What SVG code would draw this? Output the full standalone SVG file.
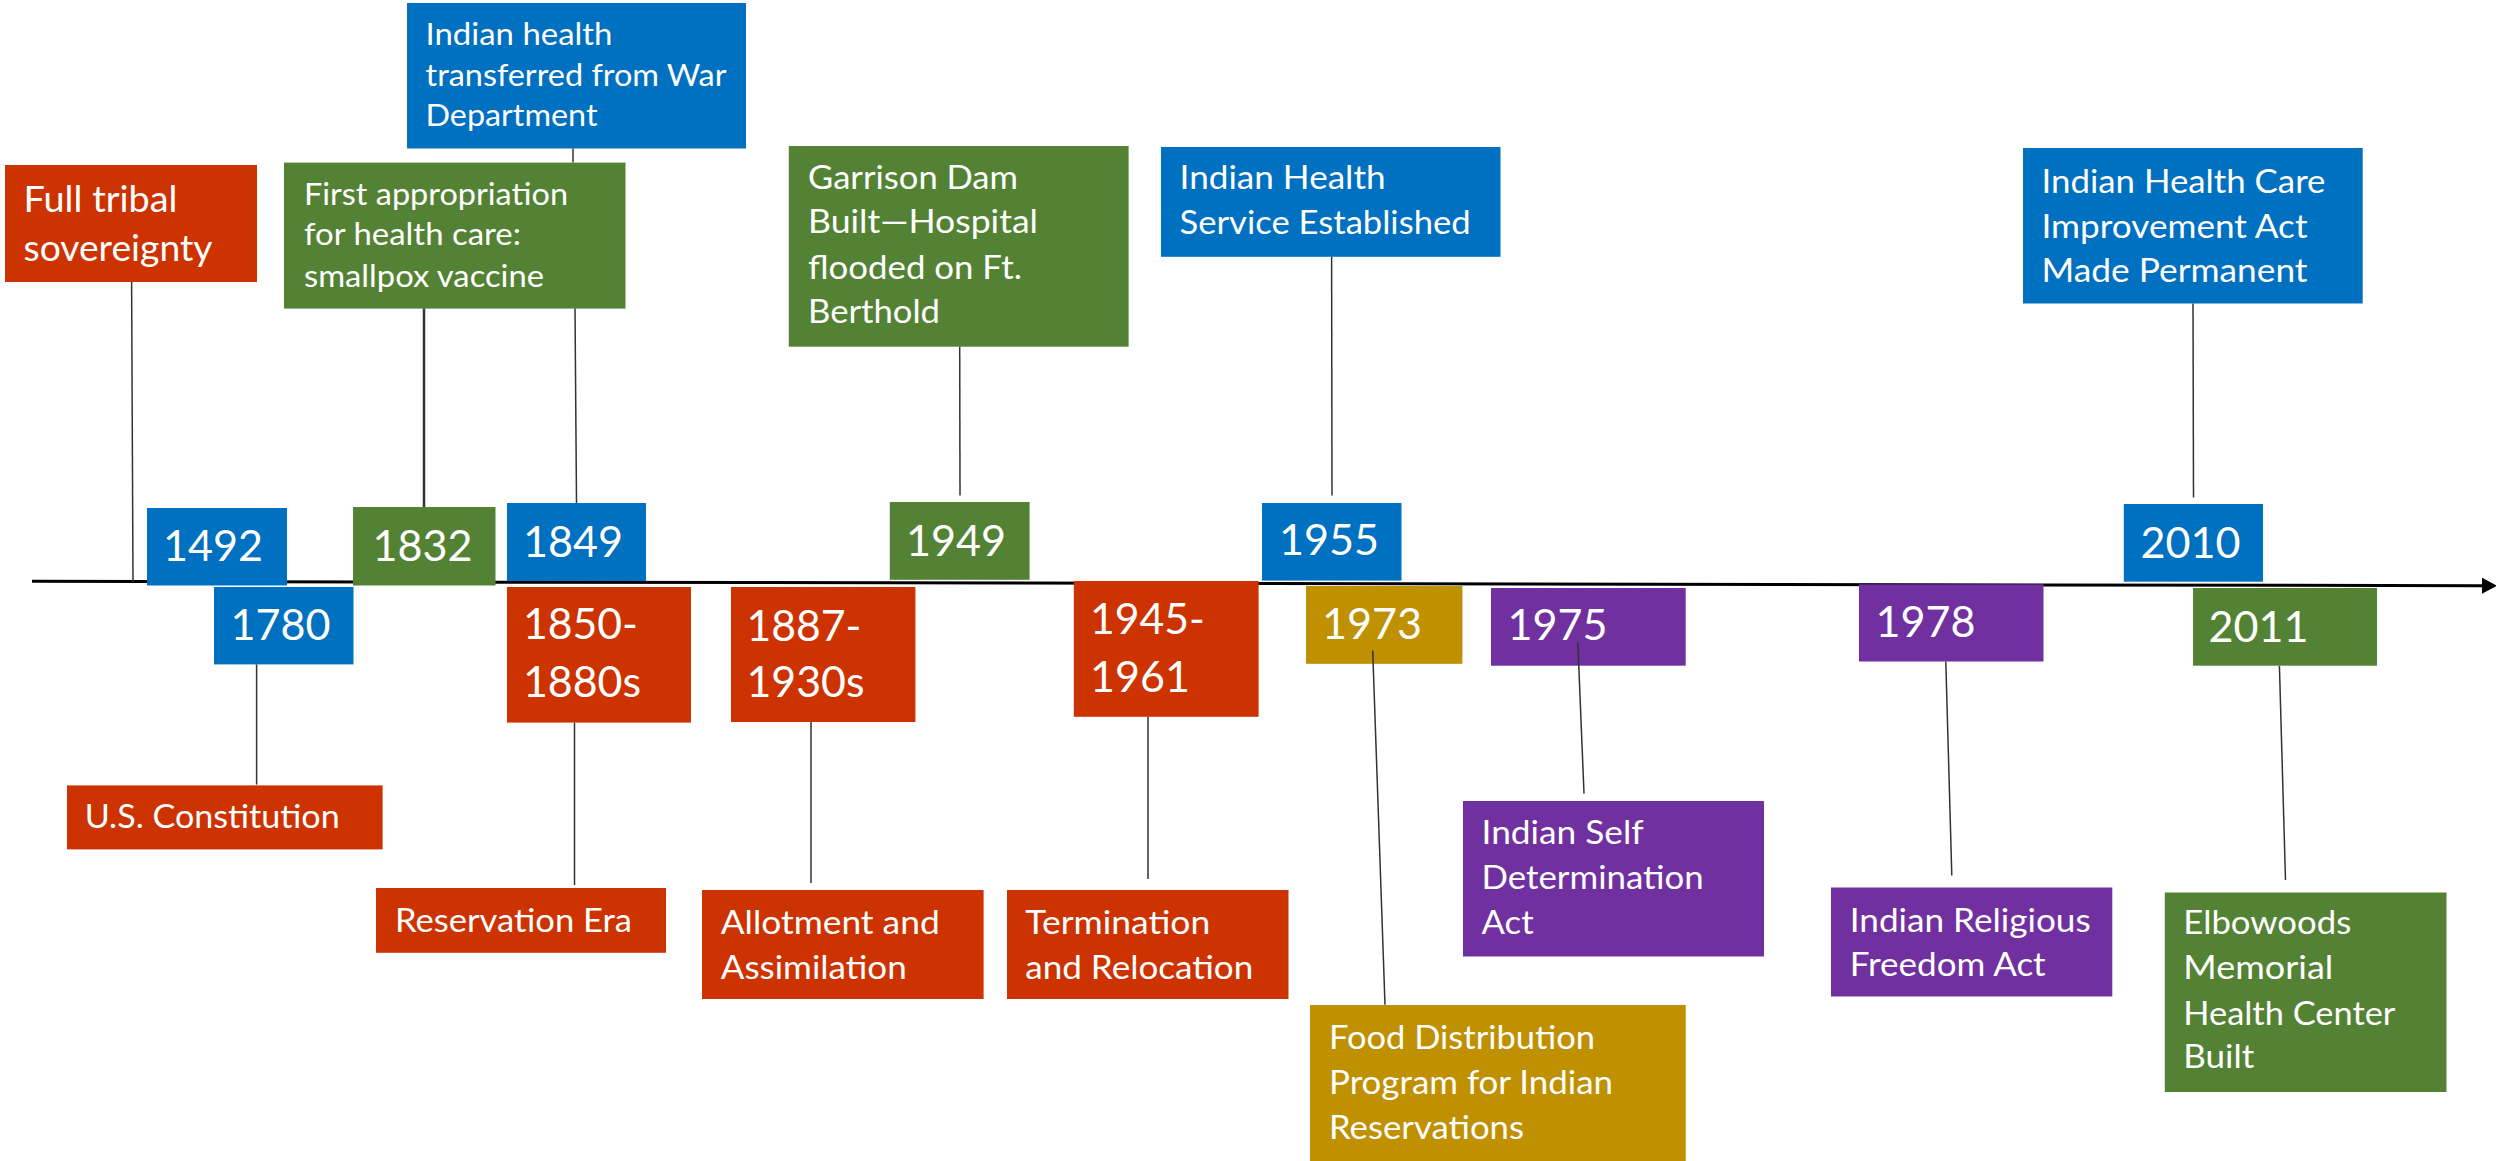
<svg xmlns="http://www.w3.org/2000/svg" width="2496" height="1161" viewBox="0 0 2496 1161">
<style>
  .red{fill:#CC3300}
  .blue{fill:#0070C0}
  .green{fill:#548235}
  .gold{fill:#BF9000}
  .purple{fill:#7030A0}
  text{font-family:Lato,"Liberation Sans",sans-serif;fill:#FFFFFF}
  .t{font-size:33px}
  .ts{font-size:30px}
  .tl{font-size:36px}
  .yr{font-size:43px}
  .lead{stroke:#333333;stroke-width:1.5;fill:none}
  .axis{stroke:#000000;stroke-width:3;fill:none}
</style>
<defs>
  <marker id="arrow" markerUnits="userSpaceOnUse" markerWidth="16" markerHeight="16" refX="0" refY="8" orient="auto">
    <path d="M0,0 L15,8 L0,16 Z" fill="#000000"/>
  </marker>
</defs>
<rect width="2496" height="1161" fill="#FFFFFF"/>

<g id="timeline-axis">
  <line class="axis" x1="32" y1="581.3" x2="2482" y2="585.7" marker-end="url(#arrow)"/>
</g>

<g id="nodes">
  <g id="n-full-tribal"><rect class="red" x="5" y="165" width="252" height="117"/>
    <text class="tl" x="23.5" y="212" textLength="154" lengthAdjust="spacingAndGlyphs">Full tribal</text>
    <text class="tl" x="23.5" y="261" textLength="189" lengthAdjust="spacingAndGlyphs">sovereignty</text></g>
  <g id="n-indian-health-war"><rect class="blue" x="407" y="3" width="339" height="145.5"/>
    <text class="ts" x="425.5" y="45" textLength="187" lengthAdjust="spacingAndGlyphs">Indian health</text>
    <text class="ts" x="425.5" y="86" textLength="301" lengthAdjust="spacingAndGlyphs">transferred from War</text>
    <text class="ts" x="425.5" y="126" textLength="172" lengthAdjust="spacingAndGlyphs">Department</text></g>
  <g id="n-first-appropriation"><rect class="green" x="284" y="162.6" width="341.5" height="146"/>
    <text class="ts" x="304" y="205" textLength="264" lengthAdjust="spacingAndGlyphs">First appropriation</text>
    <text class="ts" x="304" y="245" textLength="217" lengthAdjust="spacingAndGlyphs">for health care:</text>
    <text class="ts" x="304" y="287" textLength="240" lengthAdjust="spacingAndGlyphs">smallpox vaccine</text></g>
  <g id="n-1492"><rect class="blue" x="147" y="508" width="140" height="77.5"/>
    <text class="yr" x="163" y="561" textLength="100" lengthAdjust="spacingAndGlyphs">1492</text></g>
  <g id="n-1780"><rect class="blue" x="214" y="587" width="139.5" height="77.4"/>
    <text class="yr" x="230.5" y="640" textLength="100" lengthAdjust="spacingAndGlyphs">1780</text></g>
  <g id="n-us-constitution"><rect class="red" x="67" y="785.4" width="315.6" height="64"/>
    <text class="t" x="84.7" y="828" textLength="255" lengthAdjust="spacingAndGlyphs">U.S. Constitution</text></g>
  <g id="n-1832"><rect class="green" x="353" y="507" width="142.5" height="78.5"/>
    <text class="yr" x="372.5" y="560.6" textLength="100" lengthAdjust="spacingAndGlyphs">1832</text></g>
  <g id="n-1849"><rect class="blue" x="507" y="503" width="139" height="78"/>
    <text class="yr" x="523" y="557" textLength="100" lengthAdjust="spacingAndGlyphs">1849</text></g>
  <g id="n-1850"><rect class="red" x="507" y="587" width="184" height="135.6"/>
    <text class="yr" x="523" y="639" textLength="115" lengthAdjust="spacingAndGlyphs">1850-</text>
    <text class="yr" x="523" y="697" textLength="118" lengthAdjust="spacingAndGlyphs">1880s</text></g>
  <g id="n-reservation-era"><rect class="red" x="376" y="888" width="290" height="64.8"/>
    <text class="t" x="395" y="932" textLength="237" lengthAdjust="spacingAndGlyphs">Reservation Era</text></g>
  <g id="n-1887"><rect class="red" x="731" y="587" width="184.4" height="135"/>
    <text class="yr" x="746.5" y="640.5" textLength="115" lengthAdjust="spacingAndGlyphs">1887-</text>
    <text class="yr" x="746.5" y="697" textLength="118" lengthAdjust="spacingAndGlyphs">1930s</text></g>
  <g id="n-allotment"><rect class="red" x="702" y="890" width="281.6" height="109"/>
    <text class="t" x="720.7" y="934" textLength="219" lengthAdjust="spacingAndGlyphs">Allotment and</text>
    <text class="t" x="720.7" y="978.7" textLength="186" lengthAdjust="spacingAndGlyphs">Assimilation</text></g>
  <g id="n-garrison"><rect class="green" x="788.8" y="146" width="339.8" height="200.7"/>
    <text class="t" x="808" y="189.4" textLength="210" lengthAdjust="spacingAndGlyphs">Garrison Dam</text>
    <text class="t" x="808" y="233.4" textLength="230" lengthAdjust="spacingAndGlyphs">Built—Hospital</text>
    <text class="t" x="808" y="278.6" textLength="214" lengthAdjust="spacingAndGlyphs">flooded on Ft.</text>
    <text class="t" x="808" y="323.4" textLength="132" lengthAdjust="spacingAndGlyphs">Berthold</text></g>
  <g id="n-1949"><rect class="green" x="889.8" y="502" width="139.8" height="77.8"/>
    <text class="yr" x="906" y="555.7" textLength="100" lengthAdjust="spacingAndGlyphs">1949</text></g>
  <g id="n-1945"><rect class="red" x="1073.8" y="581" width="184.8" height="135.8"/>
    <text class="yr" x="1090" y="633.8" textLength="115" lengthAdjust="spacingAndGlyphs">1945-</text>
    <text class="yr" x="1090" y="692" textLength="100" lengthAdjust="spacingAndGlyphs">1961</text></g>
  <g id="n-termination"><rect class="red" x="1007" y="890" width="281.5" height="109"/>
    <text class="t" x="1025.3" y="934" textLength="185" lengthAdjust="spacingAndGlyphs">Termination</text>
    <text class="t" x="1025.3" y="978.7" textLength="228" lengthAdjust="spacingAndGlyphs">and Relocation</text></g>
  <g id="n-ihs-established"><rect class="blue" x="1161" y="147" width="339.5" height="109.8"/>
    <text class="t" x="1179.6" y="189.4" textLength="206" lengthAdjust="spacingAndGlyphs">Indian Health</text>
    <text class="t" x="1179.6" y="234" textLength="291" lengthAdjust="spacingAndGlyphs">Service Established</text></g>
  <g id="n-1955"><rect class="blue" x="1262" y="503" width="139.5" height="77.6"/>
    <text class="yr" x="1279" y="555" textLength="100" lengthAdjust="spacingAndGlyphs">1955</text></g>
  <g id="n-1973"><rect class="gold" x="1306" y="586" width="156.4" height="77.8"/>
    <text class="yr" x="1322" y="638.8" textLength="100" lengthAdjust="spacingAndGlyphs">1973</text></g>
  <g id="n-food-distribution"><rect class="gold" x="1310" y="1005" width="375.7" height="156"/>
    <text class="t" x="1329" y="1049" textLength="266" lengthAdjust="spacingAndGlyphs">Food Distribution</text>
    <text class="t" x="1329" y="1093.5" textLength="284" lengthAdjust="spacingAndGlyphs">Program for Indian</text>
    <text class="t" x="1329" y="1139" textLength="195" lengthAdjust="spacingAndGlyphs">Reservations</text></g>
  <g id="n-1975"><rect class="purple" x="1491" y="588" width="194.7" height="77.7"/>
    <text class="yr" x="1507.5" y="640" textLength="100" lengthAdjust="spacingAndGlyphs">1975</text></g>
  <g id="n-self-determination"><rect class="purple" x="1463" y="801" width="301" height="155.5"/>
    <text class="t" x="1481.6" y="844" textLength="162" lengthAdjust="spacingAndGlyphs">Indian Self</text>
    <text class="t" x="1481.6" y="889" textLength="222" lengthAdjust="spacingAndGlyphs">Determination</text>
    <text class="t" x="1481.6" y="934" textLength="52" lengthAdjust="spacingAndGlyphs">Act</text></g>
  <g id="n-1978"><rect class="purple" x="1859" y="584.3" width="184.5" height="77.2"/>
    <text class="yr" x="1875.5" y="636.5" textLength="100" lengthAdjust="spacingAndGlyphs">1978</text></g>
  <g id="n-religious-freedom"><rect class="purple" x="1831" y="887.5" width="281.3" height="109"/>
    <text class="t" x="1849.7" y="932" textLength="241" lengthAdjust="spacingAndGlyphs">Indian Religious</text>
    <text class="t" x="1849.7" y="976" textLength="196" lengthAdjust="spacingAndGlyphs">Freedom Act</text></g>
  <g id="n-ihcia"><rect class="blue" x="2023" y="148" width="339.7" height="155.5"/>
    <text class="t" x="2041.5" y="192.8" textLength="284" lengthAdjust="spacingAndGlyphs">Indian Health Care</text>
    <text class="t" x="2041.5" y="237.6" textLength="266" lengthAdjust="spacingAndGlyphs">Improvement Act</text>
    <text class="t" x="2041.5" y="282" textLength="266" lengthAdjust="spacingAndGlyphs">Made Permanent</text></g>
  <g id="n-2010"><rect class="blue" x="2123.8" y="504" width="139.2" height="77.7"/>
    <text class="yr" x="2140.5" y="557.6" textLength="100" lengthAdjust="spacingAndGlyphs">2010</text></g>
  <g id="n-2011"><rect class="green" x="2193" y="588" width="184" height="77.7"/>
    <text class="yr" x="2208.5" y="641.6" textLength="100" lengthAdjust="spacingAndGlyphs">2011</text></g>
  <g id="n-elbowoods"><rect class="green" x="2164.8" y="892.5" width="281.7" height="199.5"/>
    <text class="t" x="2183.3" y="934" textLength="168" lengthAdjust="spacingAndGlyphs">Elbowoods</text>
    <text class="t" x="2183.3" y="978.7" textLength="150" lengthAdjust="spacingAndGlyphs">Memorial</text>
    <text class="t" x="2183.3" y="1024.7" textLength="212" lengthAdjust="spacingAndGlyphs">Health Center</text>
    <text class="t" x="2183.3" y="1068.3" textLength="71" lengthAdjust="spacingAndGlyphs">Built</text></g>
</g>

<g id="connectors">
  <line class="lead" x1="131.6" y1="282" x2="133" y2="582"/>
  <line class="lead" x1="256.6" y1="664.4" x2="256.6" y2="784.6"/>
  <line class="lead" x1="424" y1="308.5" x2="424" y2="507" style="stroke-width:2.5"/>
  <line class="lead" x1="573" y1="148.5" x2="573" y2="162.6"/>
  <line class="lead" x1="575" y1="308.5" x2="576.5" y2="503"/>
  <line class="lead" x1="574.5" y1="722.6" x2="574.5" y2="885"/>
  <line class="lead" x1="811" y1="722" x2="811" y2="883"/>
  <line class="lead" x1="959.7" y1="346.7" x2="960" y2="495.6"/>
  <line class="lead" x1="1148" y1="716.8" x2="1148" y2="879"/>
  <line class="lead" x1="1331.6" y1="256.8" x2="1332" y2="495.6"/>
  <line class="lead" x1="1372.7" y1="650.5" x2="1385" y2="1004.8"/>
  <line class="lead" x1="1577.8" y1="642" x2="1584" y2="793.6"/>
  <line class="lead" x1="1945.8" y1="661.5" x2="1951.8" y2="875.4"/>
  <line class="lead" x1="2193" y1="303.5" x2="2193.5" y2="497.5"/>
  <line class="lead" x1="2279.4" y1="665.7" x2="2285.5" y2="880"/>
</g>
</svg>
